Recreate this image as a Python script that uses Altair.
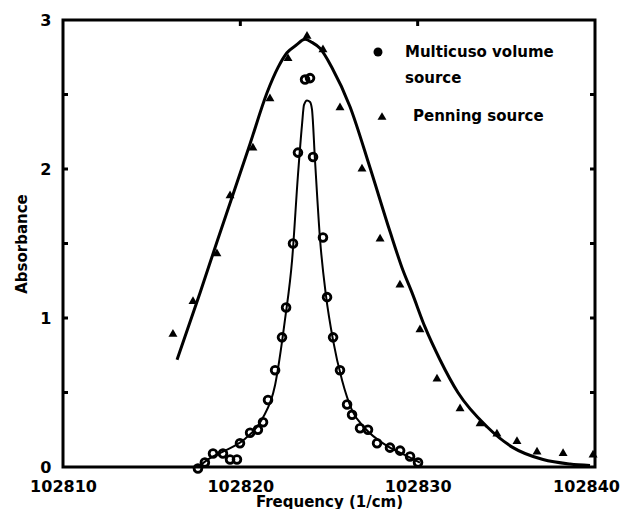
import altair as alt
import pandas as pd

# ---- data ----
# Penning source: measured points (triangles)
pen_x = [102816.20, 102817.33, 102818.68, 102819.42, 102820.71, 102821.67, 102822.69,
         102823.76, 102824.66, 102825.62, 102826.86, 102827.88, 102829.00, 102830.13,
         102831.09, 102832.39, 102833.52, 102834.47, 102835.60, 102836.73, 102838.20,
         102839.89]
pen_y = [0.90, 1.12, 1.44, 1.83, 2.15, 2.48, 2.75, 2.90, 2.81, 2.42, 2.01, 1.54, 1.23,
         0.93, 0.60, 0.40, 0.30, 0.23, 0.18, 0.11, 0.10, 0.09]

# Penning source: fitted curve
penfit_x = [102816.43, 102817.73, 102818.68, 102819.59, 102820.55, 102821.50, 102822.12,
            102822.63, 102823.14, 102823.65, 102824.04, 102824.49, 102825.17, 102826.18,
            102827.31, 102828.44, 102829.17, 102829.68, 102830.41, 102831.26, 102832.27,
            102833.91, 102835.38, 102837.07, 102838.59, 102839.72]
penfit_y = [0.72, 1.17, 1.51, 1.83, 2.17, 2.51, 2.68, 2.78, 2.83, 2.87, 2.85, 2.81, 2.68,
            2.42, 2.01, 1.58, 1.32, 1.17, 0.94, 0.72, 0.50, 0.27, 0.13, 0.05, 0.02, 0.01]

# Multicusp volume source: measured points (circles)
mc_x = [102817.61, 102818.0, 102818.46, 102819.02, 102819.42, 102819.81, 102819.98,
        102820.55, 102820.99, 102821.28, 102821.56, 102821.96, 102822.35, 102822.58,
        102822.97, 102823.25, 102823.65, 102823.93, 102824.10, 102824.66, 102824.89,
        102825.23, 102825.62, 102826.02, 102826.30, 102826.75, 102827.20, 102827.71,
        102828.44, 102829.01, 102829.57, 102830.02]
mc_y = [-0.01, 0.03, 0.09, 0.09, 0.05, 0.05, 0.16, 0.23, 0.25, 0.30, 0.45, 0.65, 0.87,
        1.07, 1.50, 2.11, 2.60, 2.61, 2.08, 1.54, 1.14, 0.87, 0.65, 0.42, 0.35, 0.26,
        0.25, 0.16, 0.13, 0.11, 0.07, 0.03]

# Multicusp volume source: fitted curve
mcfit_x = [102817.61, 102818.29, 102819.14, 102820.27, 102821.22, 102821.96, 102822.52,
           102822.92, 102823.25, 102823.48, 102823.59, 102823.76, 102823.93, 102824.04,
           102824.21, 102824.50, 102824.83, 102825.23, 102825.74, 102826.30, 102827.03,
           102828.16, 102829.29, 102830.13]
mcfit_y = [0.00, 0.06, 0.11, 0.19, 0.32, 0.55, 0.99, 1.39, 1.96, 2.30, 2.43, 2.46, 2.45,
           2.40, 2.06, 1.52, 1.15, 0.85, 0.58, 0.38, 0.26, 0.15, 0.08, 0.03]

x_ticks = [102810, 102820, 102830, 102840]
y_ticks = [0, 1, 2, 3]
y_minor = [0.5, 1.0, 1.5, 2.0, 2.5]
x_minor = [102820, 102830]

legend_labels = ["Multicuso volume", "source", "Penning source"]

FONT = "DejaVu Sans"
W, H = 532, 447

pen_pts = pd.DataFrame({"x": pen_x, "y": pen_y})
pen_fit = pd.DataFrame({"x": penfit_x, "y": penfit_y})
mc_pts = pd.DataFrame({"x": mc_x, "y": mc_y})
mc_fit = pd.DataFrame({"x": mcfit_x, "y": mcfit_y})

xscale = alt.Scale(domain=[102810, 102840], nice=False)
yscale = alt.Scale(domain=[0, 3], nice=False)

xaxis = alt.Axis(values=x_ticks, format="d", ticks=False, domain=False, grid=False,
                 labelFont=FONT, labelFontWeight="bold", labelFontSize=16, labelColor="black",
                 labelPadding=11, labelOverlap=False, labelBound=False, labelFlush=False,
                 labelOffset={"expr": "datum.value == 102840 ? -9 : 0"},
                 title="Frequency (1/cm)", titleFont=FONT, titleFontWeight="bold",
                 titleFontSize=15, titleColor="black", titleBaseline="alphabetic", titleY=39)
yaxis = alt.Axis(values=y_ticks, format="d", ticks=False, domain=False, grid=False,
                 labelFont=FONT, labelFontWeight="bold", labelFontSize=16, labelColor="black",
                 labelPadding=12, labelOverlap=False, labelBound=False, labelFlush=False,
                 title="Absorbance", titleFont=FONT, titleFontWeight="bold",
                 titleFontSize=15, titleColor="black", titlePadding=10)

X = alt.X("x:Q", scale=xscale, axis=xaxis)
Y = alt.Y("y:Q", scale=yscale, axis=yaxis)

pen_line = alt.Chart(pen_fit).mark_line(color="black", strokeWidth=3, interpolate="monotone").encode(x=X, y=Y)
mc_line = alt.Chart(mc_fit).mark_line(color="black", strokeWidth=2, interpolate="monotone").encode(x=X, y=Y)
pen_mark = alt.Chart(pen_pts).mark_point(shape="triangle-up", filled=True, color="black",
                                          opacity=1, size=80).encode(x=X, y=Y)
mc_mark = alt.Chart(mc_pts).mark_point(shape="circle", filled=False, color="black",
                                        opacity=1, strokeWidth=2.8, size=60).encode(x=X, y=Y)

# inward axis ticks
tick_df = pd.DataFrame({"y": y_minor})
left_ticks = alt.Chart(tick_df).mark_rule(color="black", strokeWidth=3).encode(
    y=alt.Y("y:Q", scale=yscale), x=alt.value(0), x2=alt.value(5))
right_ticks = alt.Chart(tick_df).mark_rule(color="black", strokeWidth=3).encode(
    y=alt.Y("y:Q", scale=yscale), x=alt.value(W - 5), x2=alt.value(W))
top_df = pd.DataFrame({"x": x_minor})
top_ticks = alt.Chart(top_df).mark_rule(color="black", strokeWidth=3).encode(
    x=alt.X("x:Q", scale=xscale), y=alt.value(0), y2=alt.value(6))

# in-plot legend
leg_text = pd.DataFrame({"t": legend_labels, "px": [342, 342, 350], "py": [32, 58, 96]})
legend_txt = alt.Chart(leg_text).mark_text(align="left", baseline="middle", font=FONT,
                                           fontWeight="bold", fontSize=15, color="black").encode(
    text="t:N", x=alt.X("px:Q", scale=None), y=alt.Y("py:Q", scale=None))
leg_sym = pd.DataFrame({"s": ["circle", "triangle-up"], "px": [315, 319], "py": [32, 96]})
legend_sym = alt.Chart(leg_sym).mark_point(filled=True, color="black", opacity=1, size=80).encode(
    shape=alt.Shape("s:N", scale=None, legend=None),
    x=alt.X("px:Q", scale=None), y=alt.Y("py:Q", scale=None))

chart = alt.layer(pen_line, mc_line, pen_mark, mc_mark, left_ticks, right_ticks, top_ticks,
                  legend_txt, legend_sym).properties(
    width=W, height=H,
    autosize=alt.AutoSizeParams(type="none"),
    padding={"left": 55, "top": 12, "right": 27, "bottom": 42},
    background="white",
).configure_view(stroke="black", strokeWidth=3)

chart.save("out.html", embed_options={"renderer": "svg", "actions": False})
